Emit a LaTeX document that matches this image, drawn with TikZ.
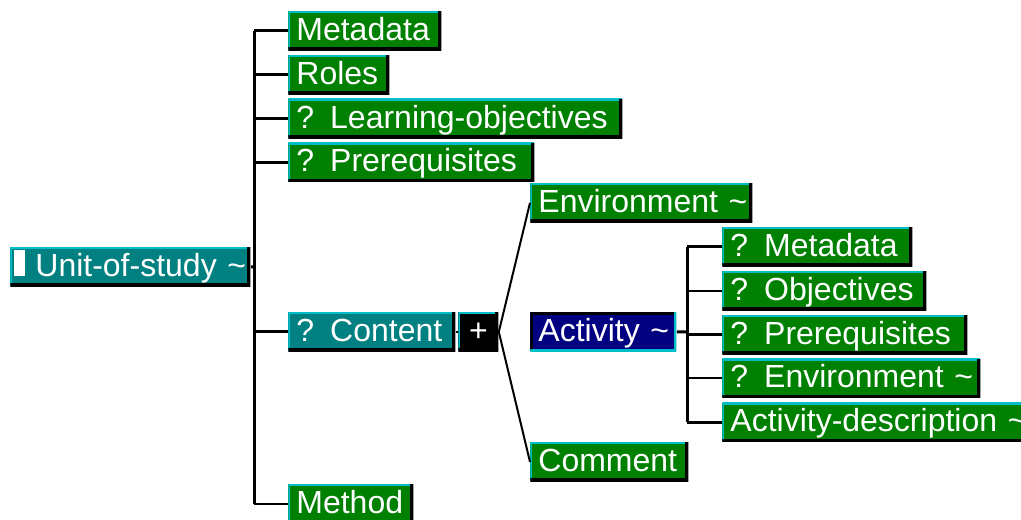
\documentclass[tikz,border=0pt]{standalone}
\usepackage{fontspec}
\setmainfont{Liberation Sans}
\usetikzlibrary{positioning}
\exhyphenpenalty=10000
\hyphenpenalty=10000

\definecolor{leafgreen}{RGB}{0,128,0}
\definecolor{rootteal}{RGB}{0,128,128}
\definecolor{activenavy}{RGB}{0,0,128}
\definecolor{edgecyan}{RGB}{0,190,200}

\begin{document}
\begin{tikzpicture}[
      x = 0.5pt, y = -0.5pt,
      node distance = 2pt,
      elem/.style = {
        anchor = north west, inner xsep = 4pt, inner ysep = 0pt,
        minimum height = 19.5pt, text = white, align = left,
        font = {\fontsize{16pt}{18pt}\selectfont},
        text height = 11.5pt, text depth = 2pt,
        text width = #1,
        path picture = {
          \draw[edgecyan, line width = 2pt] (path picture bounding box.south west) |- (path picture bounding box.north east);
          \draw[black, line width = 3pt] (path picture bounding box.south west) -| (path picture bounding box.north east);
        }
      },
      leaf/.style = { elem = #1, fill = leafgreen },
      root/.style = { elem = #1, fill = rootteal },
      sunken/.style = {
        elem = #1, fill = activenavy,
        path picture = {
          \draw[black, line width = 3pt] (path picture bounding box.south west) |- (path picture bounding box.north east);
          \draw[edgecyan, line width = 2pt] (path picture bounding box.south west) -| (path picture bounding box.north east);
        }
      },
      plus/.style = { elem = 12pt, fill = black, align = center },
      thickline/.style = { line width = 1.5pt },
      thinline/.style = { line width = 1pt },
    ]

    \useasboundingbox (0,0) rectangle (1021,519);

    %% root
    \node[root = 116pt, inner xsep = 2pt] (unit) at (10,247) {\rule{5.5pt}{13pt}\kern5pt Unit-of-study~\textasciitilde};

    %% first level
    \node[leaf = 68.5pt] (meta) at (288,11) {Metadata};
    \node[leaf = 42.5pt, below right = 2pt and 0pt of meta.south west] (roles) {Roles};
    \node[leaf = 159pt, below right = 2pt and 0pt of roles.south west] (learn) {?\enspace Learning-objectives};
    \node[leaf = 115pt, below right = 2pt and 0pt of learn.south west] (prereq) {?\enspace Prerequisites};
    \node[root = 75.5pt] (content) at (288,312) {?\enspace Content};
    \node[plus] (choice) at (458,312) {+};
    \node[leaf = 54.5pt] (method) at (288,484) {Method};

    %% choice of content
    \node[leaf = 103pt] (env) at (530,183) {Environment~\textasciitilde};
    \node[sunken = 65pt] (activity) at (530,312) {Activity~\textasciitilde};
    \node[leaf = 71pt] (comment) at (530,442) {Comment};

    %% parts of the activity
    \node[leaf = 87pt] (ameta) at (722,227) {?\enspace Metadata};
    \node[leaf = 94pt, below right = 2pt and 0pt of ameta.south west] (aobj) {?\enspace Objectives};
    \node[leaf = 114.5pt, below right = 2pt and 0pt of aobj.south west] (apre) {?\enspace Prerequisites};
    \node[leaf = 121pt, below right = 2pt and 0pt of apre.south west] (aenv) {?\enspace Environment~\textasciitilde};
    \node[leaf = 152pt, below right = 2pt and 0pt of aenv.south west] (adesc) {Activity-description~\textasciitilde};

    %% main tree
    \coordinate (trunk) at (254,267);
    \draw[thickline] (unit.east) to (trunk);
    \draw[thickline] (trunk |- meta.west) to (trunk |- method.west);
    \foreach \d in {meta, roles, learn, prereq, content} {
      \draw[thickline] (trunk |- \d.west) to (\d.west);
    }
    \draw[thinline] (trunk |- method.west) to (method.west);

    \draw[thinline] (content) to (choice);
    \draw[thinline] (choice.east) to (env.west);
    \draw[thinline] (choice.east) to (comment.west);

    %% activity tree
    \coordinate (subtrunk) at (687,332);
    \draw[thickline] (activity.east) to (subtrunk);
    \draw[thickline] (subtrunk |- ameta.west) to (subtrunk |- adesc.west);
    \foreach \d in {ameta, apre, adesc} {
      \draw[thickline] (subtrunk |- \d.west) to (\d.west);
    }
    \foreach \d in {aobj, aenv} {
      \draw[thinline] (subtrunk |- \d.west) to (\d.west);
    }
  \end{tikzpicture}
\end{document}
